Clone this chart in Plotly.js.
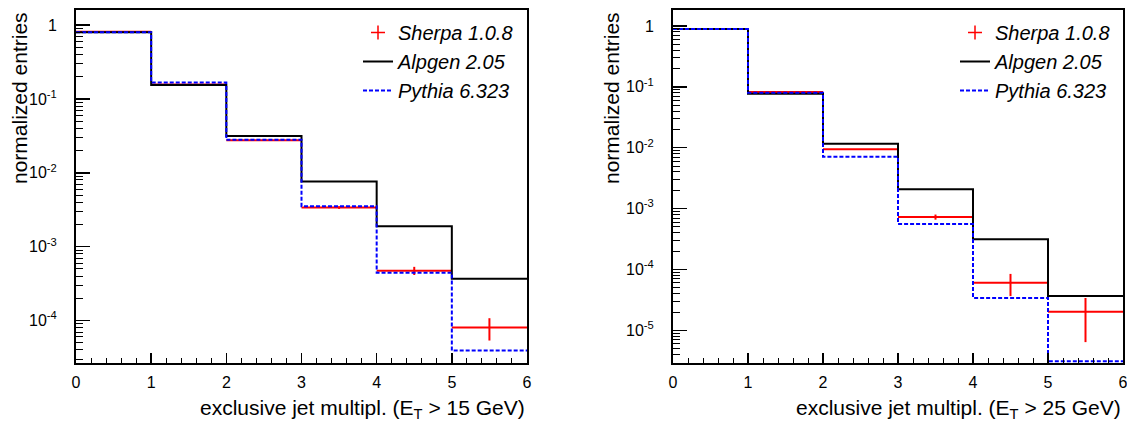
<!DOCTYPE html>
<html><head><meta charset="utf-8">
<script src="https://cdn.plot.ly/plotly-3.0.1.min.js"></script>
<style>html,body{margin:0;padding:0;background:#fff;}#chart{width:1127px;height:423px;}</style>
</head><body><div id="chart"></div>
<script>
// ---- data ----
const binEdges = [0, 1, 2, 3, 4, 5, 6];
const seriesNames = ['Sherpa 1.0.8', 'Alpgen 2.05', 'Pythia 6.323'];

// E_T > 15 GeV
const sherpa15    = [0.81, 0.157, 0.0275, 0.00339, 0.000474, 0.0000807];
const sherpa15Err = [0.002, 0.001, 0.0003, 0.00014, 0.00006, 0.000027];
const alpgen15    = [0.80, 0.155, 0.0315, 0.00764, 0.00189, 0.000369];
const pythia15    = [0.80, 0.167, 0.0280, 0.00353, 0.000445, 0.0000393];

// E_T > 25 GeV
const sherpa25    = [0.89, 0.082, 0.0094, 0.000728, 0.0000605, 0.0000202];
const sherpa25Err = [0.002, 0.0006, 0.0001, 0.00007, 0.000024, 0.0000138];
const alpgen25    = [0.89, 0.077, 0.01165, 0.00207, 0.000313, 0.0000366];
const pythia25    = [0.89, 0.080, 0.00713, 0.000558, 0.000034, 0.0000031];

const xTitles = ['exclusive jet multipl. (E<sub>T</sub> &gt; 15 GeV)',
                 'exclusive jet multipl. (E<sub>T</sub> &gt; 25 GeV)'];
const yTitle = 'normalized entries';
const yTickVals15 = [1, 0.1, 0.01, 0.001, 0.0001];
const yTickText15 = ['1', '10<sup>-1</sup>', '10<sup>-2</sup>', '10<sup>-3</sup>', '10<sup>-4</sup>'];
const yTickVals25 = [1, 0.1, 0.01, 0.001, 0.0001, 0.00001];
const yTickText25 = ['1', '10<sup>-1</sup>', '10<sup>-2</sup>', '10<sup>-3</sup>', '10<sup>-4</sup>', '10<sup>-5</sup>'];

// ---- helpers ----
const W = 1127, H = 423;
const RED = '#ff0000', BLUE = '#0000ff', BLACK = '#000000';
const FONT = 'Liberation Sans, Arial, Helvetica, sans-serif';
const centers = binEdges.slice(0, -1).map((e, i) => (e + binEdges[i + 1]) / 2);
const stepY = v => v.concat([v[v.length - 1]]);
const minorLog = [];
for (let k = -7; k <= 0; k++) for (let d = 2; d <= 9; d++) minorLog.push(d * Math.pow(10, k));

function panelTraces(sh, shErr, al, py, xa, ya, legendId) {
  return [
    { type: 'scatter', mode: 'markers', x: centers, y: sh, xaxis: xa, yaxis: ya,
      marker: { size: 1, color: RED, opacity: 0 }, showlegend: false, hoverinfo: 'skip',
      error_x: { type: 'constant', value: 0.5, width: 0, thickness: 2, color: RED },
      error_y: { type: 'data', array: shErr, width: 0, thickness: 2, color: RED } },
    { type: 'scatter', mode: 'lines', x: binEdges, y: stepY(al), xaxis: xa, yaxis: ya,
      line: { shape: 'hv', color: BLACK, width: 2 }, showlegend: false },
    { type: 'scatter', mode: 'lines', x: binEdges, y: stepY(py), xaxis: xa, yaxis: ya,
      line: { shape: 'hv', color: BLUE, width: 2, dash: '4px,2px' }, showlegend: false },
    // legend entries
    { type: 'scatter', mode: 'markers', x: [null], y: [null], xaxis: xa, yaxis: ya, name: seriesNames[0],
      legend: legendId, legendgroup: legendId + 'a',
      marker: { symbol: 'cross-thin', size: 10, color: RED, line: { color: RED, width: 1.5 } } },
    { type: 'scatter', mode: 'lines', x: [null], y: [null], xaxis: xa, yaxis: ya, name: seriesNames[1],
      legend: legendId, legendgroup: legendId + 'b', line: { color: BLACK, width: 2 } },
    { type: 'scatter', mode: 'lines', x: [null], y: [null], xaxis: xa, yaxis: ya, name: seriesNames[2],
      legend: legendId, legendgroup: legendId + 'c', line: { color: BLUE, width: 2, dash: '4px,2px' } }
  ];
}

const data = panelTraces(sherpa15, sherpa15Err, alpgen15, pythia15, 'x', 'y', 'legend')
  .concat(panelTraces(sherpa25, sherpa25Err, alpgen25, pythia25, 'x2', 'y2', 'legend2'));

function xAxis(domain, anchor) {
  return {
    domain: domain, anchor: anchor, range: [0, 6], tick0: 0, dtick: 1,
    ticks: 'inside', ticklen: 10, tickwidth: 1.5, tickcolor: BLACK,
    minor: { dtick: 0.2, tick0: 0, ticks: 'inside', ticklen: 5, tickwidth: 1, tickcolor: BLACK, showgrid: false },
    showline: true, linewidth: 2, linecolor: BLACK, mirror: true,
    showgrid: false, zeroline: false, ticklabelstandoff: 4, ticklabeloverflow: 'allow',
    tickfont: { family: FONT, size: 16, color: BLACK }
  };
}
function yAxis(anchor, range, vals, text) {
  return {
    domain: [1 - 363 / H, 1 - 10 / H], anchor: anchor, type: 'log', range: range,
    tickmode: 'array', tickvals: vals, ticktext: text,
    ticks: 'inside', ticklen: 14, tickwidth: 1.5, tickcolor: BLACK,
    minor: { tickmode: 'array', tickvals: minorLog, ticks: 'inside', ticklen: 7, tickwidth: 1, tickcolor: BLACK, showgrid: false },
    showline: true, linewidth: 2, linecolor: BLACK, mirror: true,
    showgrid: false, zeroline: false, ticklabelstandoff: 14,
    tickfont: { family: FONT, size: 16, color: BLACK }
  };
}
function legendAt(px) {
  return { x: px / W, y: 1 - 13 / H, xanchor: 'left', yanchor: 'top', xref: 'paper', yref: 'paper',
    bgcolor: 'rgba(0,0,0,0)', borderwidth: 0, traceorder: 'grouped', tracegroupgap: 0,
    font: { family: FONT, size: 20, style: 'italic', color: BLACK } };
}
const annFont = { family: FONT, size: 21, color: BLACK };
const layout = {
  width: W, height: H, margin: { l: 0, r: 0, t: 0, b: 0 },
  paper_bgcolor: '#fff', plot_bgcolor: '#fff', font: { family: FONT, color: BLACK },
  xaxis: xAxis([76 / W, 527 / W], 'y'),
  yaxis: yAxis('x', [-4.574, 0.204], yTickVals15, yTickText15),
  xaxis2: xAxis([673 / W, 1123 / W], 'y2'),
  yaxis2: yAxis('x2', [-5.537, 0.263], yTickVals25, yTickText25),
  legend: legendAt(358), legend2: legendAt(955),
  annotations: [
    { text: yTitle, xref: 'paper', yref: 'paper', x: 19 / W, y: 1 - 10 / H, textangle: -90,
      xanchor: 'center', yanchor: 'top', showarrow: false, font: annFont },
    { text: yTitle, xref: 'paper', yref: 'paper', x: 611 / W, y: 1 - 10 / H, textangle: -90,
      xanchor: 'center', yanchor: 'top', showarrow: false, font: annFont },
    { text: xTitles[0], xref: 'paper', yref: 'paper', x: 527 / W, y: 1 - 409 / H,
      xanchor: 'right', yanchor: 'middle', showarrow: false, font: annFont },
    { text: xTitles[1], xref: 'paper', yref: 'paper', x: 1123 / W, y: 1 - 409 / H,
      xanchor: 'right', yanchor: 'middle', showarrow: false, font: annFont }
  ]
};
Plotly.newPlot('chart', data, layout, { staticPlot: true, displayModeBar: false });
</script></body></html>
